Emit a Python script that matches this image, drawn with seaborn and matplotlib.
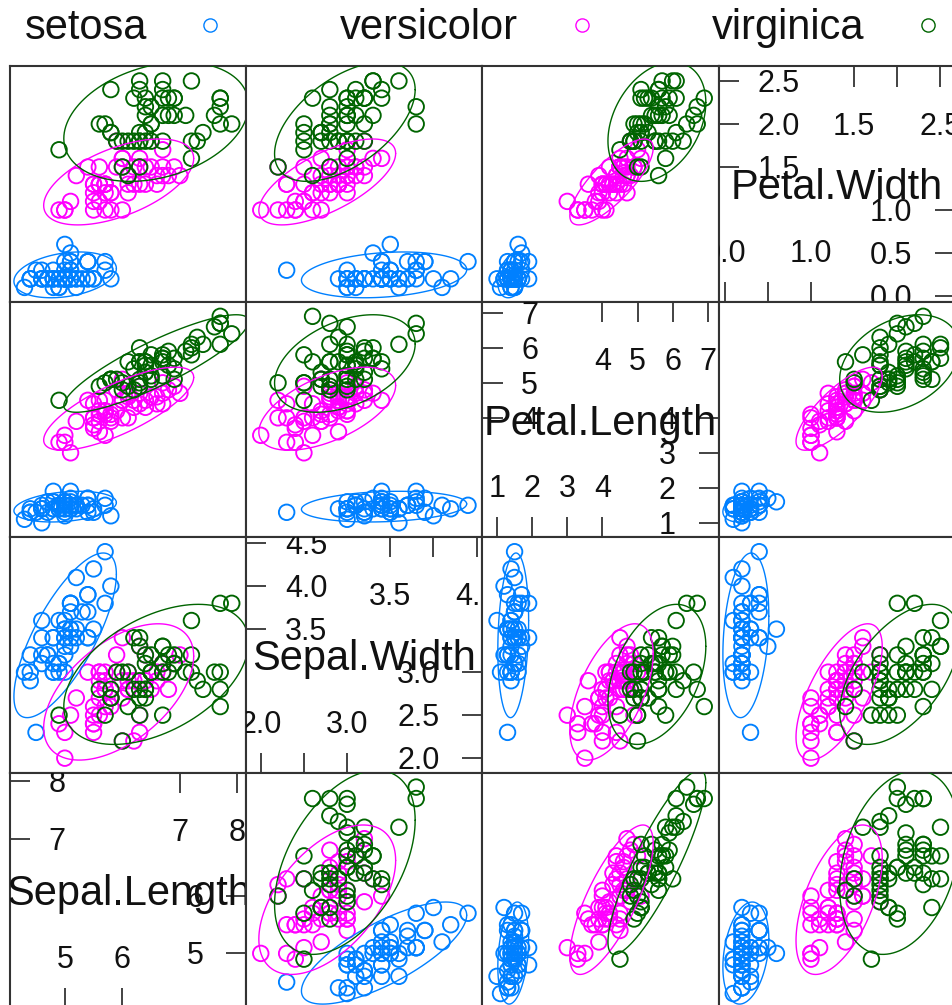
import numpy as np
import pandas as pd
import matplotlib
matplotlib.use("Agg")
import matplotlib.pyplot as plt
import matplotlib.transforms as mtrans
from matplotlib.lines import Line2D
import seaborn as sns

# ---------------------------------------------------------------- data
species = ["setosa", "versicolor", "virginica"]
palette = ["#0080ff", "#ff00ff", "#006400"]
variables = ["Sepal.Length", "Sepal.Width", "Petal.Length", "Petal.Width"]

sepal_length = [
    5.1, 4.9, 4.7, 4.6, 5.0, 5.4, 4.6, 5.0, 4.4, 4.9, 5.4, 4.8, 4.8, 4.3, 5.8, 5.7, 5.4, 5.1, 5.7, 5.1,
    5.4, 5.1, 4.6, 5.1, 4.8, 5.0, 5.0, 5.2, 5.2, 4.7, 4.8, 5.4, 5.2, 5.5, 4.9, 5.0, 5.5, 4.9, 4.4, 5.1,
    5.0, 4.5, 4.4, 5.0, 5.1, 4.8, 5.1, 4.6, 5.3, 5.0,
    7.0, 6.4, 6.9, 5.5, 6.5, 5.7, 6.3, 4.9, 6.6, 5.2, 5.0, 5.9, 6.0, 6.1, 5.6, 6.7, 5.6, 5.8, 6.2, 5.6,
    5.9, 6.1, 6.3, 6.1, 6.4, 6.6, 6.8, 6.7, 6.0, 5.7, 5.5, 5.5, 5.8, 6.0, 5.4, 6.0, 6.7, 6.3, 5.6, 5.5,
    5.5, 6.1, 5.8, 5.0, 5.6, 5.7, 5.7, 6.2, 5.1, 5.7,
    6.3, 5.8, 7.1, 6.3, 6.5, 7.6, 4.9, 7.3, 6.7, 7.2, 6.5, 6.4, 6.8, 5.7, 5.8, 6.4, 6.5, 7.7, 7.7, 6.0,
    6.9, 5.6, 7.7, 6.3, 6.7, 7.2, 6.2, 6.1, 6.4, 7.2, 7.4, 7.9, 6.4, 6.3, 6.1, 7.7, 6.3, 6.4, 6.0, 6.9,
    6.7, 6.9, 5.8, 6.8, 6.7, 6.7, 6.3, 6.5, 6.2, 5.9,
]
sepal_width = [
    3.5, 3.0, 3.2, 3.1, 3.6, 3.9, 3.4, 3.4, 2.9, 3.1, 3.7, 3.4, 3.0, 3.0, 4.0, 4.4, 3.9, 3.5, 3.8, 3.8,
    3.4, 3.7, 3.6, 3.3, 3.4, 3.0, 3.4, 3.5, 3.4, 3.2, 3.1, 3.4, 4.1, 4.2, 3.1, 3.2, 3.5, 3.6, 3.0, 3.4,
    3.5, 2.3, 3.2, 3.5, 3.8, 3.0, 3.8, 3.2, 3.7, 3.3,
    3.2, 3.2, 3.1, 2.3, 2.8, 2.8, 3.3, 2.4, 2.9, 2.7, 2.0, 3.0, 2.2, 2.9, 2.9, 3.1, 3.0, 2.7, 2.2, 2.5,
    3.2, 2.8, 2.5, 2.8, 2.9, 3.0, 2.8, 3.0, 2.9, 2.6, 2.4, 2.4, 2.7, 2.7, 3.0, 3.4, 3.1, 2.3, 3.0, 2.5,
    2.6, 3.0, 2.6, 2.3, 2.7, 3.0, 2.9, 2.9, 2.5, 2.8,
    3.3, 2.7, 3.0, 2.9, 3.0, 3.0, 2.5, 2.9, 2.5, 3.6, 3.2, 2.7, 3.0, 2.5, 2.8, 3.2, 3.0, 3.8, 2.6, 2.2,
    3.2, 2.8, 2.8, 2.7, 3.3, 3.2, 2.8, 3.0, 2.8, 3.0, 2.8, 3.8, 2.8, 2.8, 2.6, 3.0, 3.4, 3.1, 3.0, 3.1,
    3.1, 3.1, 2.7, 3.2, 3.3, 3.0, 2.5, 3.0, 3.4, 3.0,
]
petal_length = [
    1.4, 1.4, 1.3, 1.5, 1.4, 1.7, 1.4, 1.5, 1.4, 1.5, 1.5, 1.6, 1.4, 1.1, 1.2, 1.5, 1.3, 1.4, 1.7, 1.5,
    1.7, 1.5, 1.0, 1.7, 1.9, 1.6, 1.6, 1.5, 1.4, 1.6, 1.6, 1.5, 1.5, 1.4, 1.5, 1.2, 1.3, 1.4, 1.3, 1.5,
    1.3, 1.3, 1.3, 1.6, 1.9, 1.4, 1.6, 1.4, 1.5, 1.4,
    4.7, 4.5, 4.9, 4.0, 4.6, 4.5, 4.7, 3.3, 4.6, 3.9, 3.5, 4.2, 4.0, 4.7, 3.6, 4.4, 4.5, 4.1, 4.5, 3.9,
    4.8, 4.0, 4.9, 4.7, 4.3, 4.4, 4.8, 5.0, 4.5, 3.5, 3.8, 3.7, 3.9, 5.1, 4.5, 4.5, 4.7, 4.4, 4.1, 4.0,
    4.4, 4.6, 4.0, 3.3, 4.2, 4.2, 4.2, 4.3, 3.0, 4.1,
    6.0, 5.1, 5.9, 5.6, 5.8, 6.6, 4.5, 6.3, 5.8, 6.1, 5.1, 5.3, 5.5, 5.0, 5.1, 5.3, 5.5, 6.7, 6.9, 5.0,
    5.7, 4.9, 6.7, 4.9, 5.7, 6.0, 4.8, 4.9, 5.6, 5.8, 6.1, 6.4, 5.6, 5.1, 5.6, 6.1, 5.6, 5.5, 4.8, 5.4,
    5.6, 5.1, 5.1, 5.9, 5.7, 5.2, 5.0, 5.2, 5.4, 5.1,
]
petal_width = [
    0.2, 0.2, 0.2, 0.2, 0.2, 0.4, 0.3, 0.2, 0.2, 0.1, 0.2, 0.2, 0.1, 0.1, 0.2, 0.4, 0.4, 0.3, 0.3, 0.3,
    0.2, 0.4, 0.2, 0.5, 0.2, 0.2, 0.4, 0.2, 0.2, 0.2, 0.2, 0.4, 0.1, 0.2, 0.2, 0.2, 0.2, 0.1, 0.2, 0.2,
    0.3, 0.3, 0.2, 0.6, 0.4, 0.3, 0.2, 0.2, 0.2, 0.2,
    1.4, 1.5, 1.5, 1.3, 1.5, 1.3, 1.6, 1.0, 1.3, 1.4, 1.0, 1.5, 1.0, 1.4, 1.3, 1.4, 1.5, 1.0, 1.5, 1.1,
    1.8, 1.3, 1.5, 1.2, 1.3, 1.4, 1.4, 1.7, 1.5, 1.0, 1.1, 1.0, 1.2, 1.6, 1.5, 1.6, 1.5, 1.3, 1.3, 1.3,
    1.2, 1.4, 1.2, 1.0, 1.3, 1.2, 1.3, 1.3, 1.1, 1.3,
    2.5, 1.9, 2.1, 1.8, 2.2, 2.1, 1.7, 1.8, 1.8, 2.5, 2.0, 1.9, 2.1, 2.0, 2.4, 2.3, 1.8, 2.2, 2.3, 1.5,
    2.3, 2.0, 2.0, 1.8, 2.1, 1.8, 1.8, 1.8, 2.1, 1.6, 1.9, 2.0, 2.2, 1.5, 1.4, 2.3, 2.4, 1.8, 1.8, 2.1,
    2.4, 2.3, 1.9, 2.3, 2.5, 2.3, 1.9, 2.0, 2.3, 1.8,
]
species_col = np.repeat(species, 50)

# diagonal-panel scales: lower half goes right/bottom, upper half goes left/top
ticks_lower = {
    "Sepal.Length": [5, 6],
    "Sepal.Width": [2.0, 2.5, 3.0],
    "Petal.Length": [1, 2, 3, 4],
    "Petal.Width": [0.0, 0.5, 1.0],
}
ticks_upper = {
    "Sepal.Length": [7, 8],
    "Sepal.Width": [3.5, 4.0, 4.5],
    "Petal.Length": [4, 5, 6, 7],
    "Petal.Width": [1.5, 2.0, 2.5],
}
labels_lower_v = {
    "Sepal.Length": ["5", "6"],
    "Sepal.Width": ["2.0", "2.5", "3.0"],
    "Petal.Length": ["1", "2", "3", "4"],
    "Petal.Width": ["0.0", "0.5", "1.0"],
}
labels_upper_v = {
    "Sepal.Length": ["7", "8"],
    "Sepal.Width": ["3.5", "4.0", "4.5"],
    "Petal.Length": ["4", "5", "6", "7"],
    "Petal.Width": ["1.5", "2.0", "2.5"],
}
# horizontal labels thinned where they would collide
labels_lower_h = {
    "Sepal.Length": ["5", "6"],
    "Sepal.Width": ["2.0", "", "3.0"],
    "Petal.Length": ["1", "2", "3", "4"],
    "Petal.Width": ["0.0", "", "1.0"],
}
labels_upper_h = {
    "Sepal.Length": ["7", "8"],
    "Sepal.Width": ["3.5", "", "4.5"],
    "Petal.Length": ["4", "5", "6", "7"],
    "Petal.Width": ["1.5", "", "2.5"],
}

df = pd.DataFrame({
    "Sepal.Length": sepal_length,
    "Sepal.Width": sepal_width,
    "Petal.Length": petal_length,
    "Petal.Width": petal_width,
    "Species": species_col,
})

# ---------------------------------------------------------------- style
W_PX, H_PX, DPI = 953, 1005, 100
sns.set_theme(style="white")
plt.rcParams["font.family"] = ["Liberation Sans", "DejaVu Sans"]
plt.rcParams["axes.edgecolor"] = "#333333"
plt.rcParams["axes.linewidth"] = 1.5

LEVEL = 0.95
PAD = 0.07
NAME_SIZE = 30
TICK_SIZE = 22
TICK_LEN = 0.085
TEXT_COLOR = "#111111"


def ellipse_radius(n, level=LEVEL):
    # sqrt(2 * F(level; 2, n-1)), closed form for 2 numerator df
    d2 = n - 1
    fq = d2 / 2.0 * ((1.0 - level) ** (-2.0 / d2) - 1.0)
    return np.sqrt(2.0 * fq)


def draw_points(x, y, color=None, label=None, **kws):
    if x.name == y.name:
        return
    sns.scatterplot(x=x, y=y, ax=plt.gca(), s=125, color=color,
                    facecolor="none", edgecolor=color, linewidth=1.35,
                    legend=False, zorder=2)


def draw_ellipse(x, y, color=None, label=None, **kws):
    if x.name == y.name:
        return
    xy = np.column_stack([np.asarray(x, float), np.asarray(y, float)])
    mu = xy.mean(axis=0)
    chol = np.linalg.cholesky(np.cov(xy, rowvar=False))
    t = np.linspace(0, 2 * np.pi, 121)
    circle = np.column_stack([np.cos(t), np.sin(t)])
    pts = mu + ellipse_radius(len(xy)) * circle @ chol.T
    plt.gca().plot(pts[:, 0], pts[:, 1], color=color, lw=1.0, zorder=3)


g = sns.PairGrid(df, hue="Species", hue_order=species, palette=palette,
                 x_vars=variables, y_vars=variables[::-1],
                 height=H_PX / DPI / 4, aspect=W_PX / H_PX, despine=False)
g.map(draw_points)
g.map(draw_ellipse)

fig = g.figure
fig.set_size_inches(W_PX / DPI, H_PX / DPI)
fig.set_dpi(DPI)

# axis ranges with 7% padding
limits = {}
for v in variables:
    lo, hi = df[v].min(), df[v].max()
    pad = PAD * (hi - lo)
    limits[v] = (lo - pad, hi + pad)

for j, xv in enumerate(g.x_vars):
    g.axes[0, j].set_xlim(*limits[xv])
for i, yv in enumerate(g.y_vars):
    g.axes[i, 0].set_ylim(*limits[yv])

for ax in g.axes.flat:
    ax.set_xticks([])
    ax.set_yticks([])
    ax.set_xlabel("")
    ax.set_ylabel("")
    for sp in ax.spines.values():
        sp.set_visible(True)
        sp.set_color("#333333")
        sp.set_linewidth(1.5)

fig.subplots_adjust(left=10 / W_PX, right=955 / W_PX,
                    top=1 - 66.5 / H_PX, bottom=1 - 1008 / H_PX,
                    wspace=0, hspace=0)


def draw_diag(ax, var):
    xtr = mtrans.blended_transform_factory(ax.transData, ax.transAxes)
    ytr = mtrans.blended_transform_factory(ax.transAxes, ax.transData)
    down = mtrans.ScaledTranslation(0, -0.11, fig.dpi_scale_trans)
    tick_kw = dict(color="#222222", lw=1.2, solid_capstyle="butt")
    txt_kw = dict(fontsize=TICK_SIZE, color=TEXT_COLOR, clip_on=True)

    for v, lv, lh in zip(ticks_upper[var], labels_upper_v[var], labels_upper_h[var]):
        ax.plot([v, v], [1, 1 - TICK_LEN], transform=xtr, **tick_kw)
        ax.text(v, 0.711, lh, transform=xtr, ha="center", va="baseline", **txt_kw)
        ax.plot([0, TICK_LEN], [v, v], transform=ytr, **tick_kw)
        ax.text(0.163, v, lv, transform=ytr + down, ha="left", va="baseline", **txt_kw)
    for v, lv, lh in zip(ticks_lower[var], labels_lower_v[var], labels_lower_h[var]):
        ax.plot([v, v], [0, TICK_LEN], transform=xtr, **tick_kw)
        ax.text(v, 0.170, lh, transform=xtr, ha="center", va="baseline", **txt_kw)
        ax.plot([1 - TICK_LEN, 1], [v, v], transform=ytr, **tick_kw)
        ax.text(0.818, v, lv, transform=ytr + down, ha="right", va="baseline", **txt_kw)

    name_tr = ax.transAxes + mtrans.ScaledTranslation(0, -0.15, fig.dpi_scale_trans)
    ax.text(0.5, 0.5, var, transform=name_tr, ha="center", va="baseline",
            fontsize=NAME_SIZE, color=TEXT_COLOR, clip_on=True)


for i, yv in enumerate(g.y_vars):
    for j, xv in enumerate(g.x_vars):
        if xv == yv:
            draw_diag(g.axes[i, j], xv)

# key across the top
key_text_x = [25, 340, 712]
key_mark_x = [210, 582, 928]
for name, col, tx, mx in zip(species, palette, key_text_x, key_mark_x):
    fig.text(tx / W_PX, 1 - 39 / H_PX, name, fontsize=NAME_SIZE,
             color=TEXT_COLOR, ha="left", va="baseline")
    fig.add_artist(Line2D([mx / W_PX], [1 - 25 / H_PX], marker="o", ms=9.5,
                          mfc="none", mec=col, mew=1.0, linestyle="none",
                          transform=fig.transFigure))

fig.savefig("out.png", dpi=DPI, facecolor="white")
